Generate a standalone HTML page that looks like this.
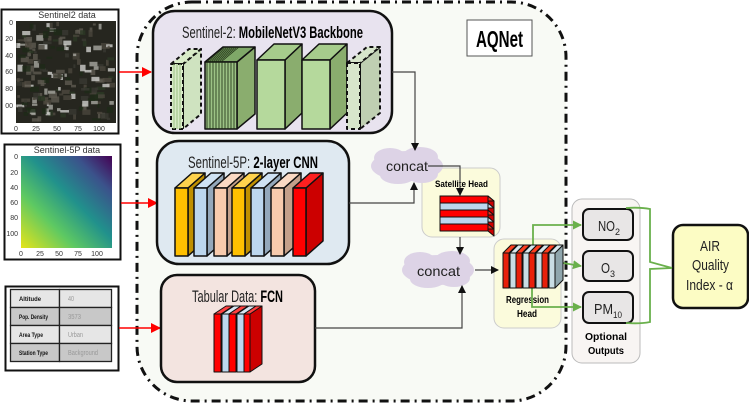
<!DOCTYPE html>
<html><head><meta charset="utf-8"><style>
html,body{margin:0;padding:0;background:#fff;width:749px;height:404px;overflow:hidden}
svg{display:block}
text{font-family:"Liberation Sans Narrow","Liberation Sans",sans-serif}
</style></head><body>
<svg id="s" width="749" height="404" viewBox="0 0 749 404" xmlns="http://www.w3.org/2000/svg">
<defs>
<linearGradient id="vg" x1="0" y1="1" x2="1" y2="0">
<stop offset="0" stop-color="#e5e419"/><stop offset="0.3" stop-color="#5ec962"/><stop offset="0.55" stop-color="#21918c"/><stop offset="0.8" stop-color="#3b528b"/><stop offset="1" stop-color="#440154"/>
</linearGradient>
<marker id="ab" markerWidth="8" markerHeight="8" refX="7" refY="4" orient="auto" markerUnits="userSpaceOnUse"><path d="M0,0 L8,4 L0,8z" fill="#111"/></marker>
<marker id="ar" markerWidth="10" markerHeight="10" refX="9" refY="5" orient="auto" markerUnits="userSpaceOnUse"><path d="M0,0 L10,5 L0,10z" fill="#f00"/></marker>
<marker id="ag" markerWidth="9" markerHeight="9" refX="8" refY="4.5" orient="auto" markerUnits="userSpaceOnUse"><path d="M0,0 L9,4.5 L0,9z" fill="#6ab04c"/></marker>
</defs>
<rect x="137" y="2" width="429" height="399" rx="55" fill="#f8faf5" stroke="#111" stroke-width="3" stroke-dasharray="9,5,2,5"/>
<rect x="467" y="20" width="65" height="36" fill="#fff" stroke="#555" stroke-width="1"/>
<text x="476" y="47" font-size="23" font-weight="bold" textLength="47" lengthAdjust="spacingAndGlyphs">AQNet</text>

<rect x="1.5" y="9.5" width="117" height="124" fill="#fff" stroke="#111" stroke-width="2"/>
<text x="67" y="18" font-size="9" text-anchor="middle" fill="#333">Sentinel2 data</text>
<g id="sat"><rect x="16" y="21" width="100" height="102" fill="#26261f"/></g>
<g font-size="7" fill="#333">
<text x="13" y="25" text-anchor="end">0</text><text x="13" y="41" text-anchor="end">20</text><text x="13" y="58" text-anchor="end">40</text><text x="13" y="74" text-anchor="end">60</text><text x="13" y="91" text-anchor="end">80</text><text x="13" y="108" text-anchor="end">00</text>
<text x="16" y="131" text-anchor="middle">0</text><text x="36" y="131" text-anchor="middle">25</text><text x="57" y="131" text-anchor="middle">50</text><text x="78" y="131" text-anchor="middle">75</text><text x="99" y="131" text-anchor="middle">100</text>
</g>
<rect x="4.5" y="144.5" width="116" height="115" fill="#fff" stroke="#111" stroke-width="2"/>
<text x="67" y="153" font-size="9" text-anchor="middle" fill="#333">Sentinel-5P data</text>
<rect x="21" y="156" width="91" height="92" fill="url(#vg)"/>
<g font-size="7" fill="#333">
<text x="18" y="159" text-anchor="end">0</text><text x="18" y="175" text-anchor="end">20</text><text x="18" y="190" text-anchor="end">40</text><text x="18" y="205" text-anchor="end">60</text><text x="18" y="220" text-anchor="end">80</text><text x="18" y="236" text-anchor="end">100</text>
<text x="21" y="256" text-anchor="middle">0</text><text x="40" y="256" text-anchor="middle">25</text><text x="59" y="256" text-anchor="middle">50</text><text x="78" y="256" text-anchor="middle">75</text><text x="97" y="256" text-anchor="middle">100</text>
</g>
<rect x="5.5" y="286.5" width="113" height="84" fill="#fff" stroke="#111" stroke-width="2"/>
<g stroke="#222" stroke-width="1.3">
<rect x="10.5" y="289.5" width="49" height="18" fill="#e6e6e6"/><rect x="59.5" y="289.5" width="52" height="18" fill="#e6e6e6"/>
<rect x="10.5" y="307.5" width="49" height="18" fill="#c8c8c8"/><rect x="59.5" y="307.5" width="52" height="18" fill="#c8c8c8"/>
<rect x="10.5" y="325.5" width="49" height="18" fill="#e6e6e6"/><rect x="59.5" y="325.5" width="52" height="18" fill="#e6e6e6"/>
<rect x="10.5" y="343.5" width="49" height="18" fill="#c8c8c8"/><rect x="59.5" y="343.5" width="52" height="18" fill="#c8c8c8"/>
</g>
<g font-size="6.5" font-weight="bold" fill="#111">
<text x="19" y="301" textLength="22" lengthAdjust="spacingAndGlyphs">Altitude</text>
<text x="19" y="319" textLength="29" lengthAdjust="spacingAndGlyphs">Pop. Density</text>
<text x="19" y="337" textLength="24" lengthAdjust="spacingAndGlyphs">Area Type</text>
<text x="19" y="355" textLength="29" lengthAdjust="spacingAndGlyphs">Station Type</text>
</g>
<g font-size="7" fill="#999">
<text x="68" y="301" textLength="6" lengthAdjust="spacingAndGlyphs">40</text>
<text x="68" y="319" textLength="13" lengthAdjust="spacingAndGlyphs">3573</text>
<text x="68" y="337" textLength="15" lengthAdjust="spacingAndGlyphs">Urban</text>
<text x="68" y="355" textLength="30" lengthAdjust="spacingAndGlyphs">Background</text>
</g>
<g stroke="#f00" stroke-width="1.5" fill="none">
<line x1="119" y1="72" x2="151" y2="72" marker-end="url(#ar)"/>
<line x1="121" y1="203" x2="157" y2="203" marker-end="url(#ar)"/>
<line x1="119" y1="328" x2="160" y2="328" marker-end="url(#ar)"/>
</g>

<rect x="153" y="11" width="239" height="122" rx="22" fill="#e8e3ef" stroke="#111" stroke-width="2.5"/>
<text x="182" y="38" font-size="17" fill="#222" textLength="181" lengthAdjust="spacingAndGlyphs">Sentinel-2: <tspan font-weight="bold" fill="#000">MobileNetV3 Backbone</tspan></text>
<rect x="157" y="141" width="192" height="123" rx="22" fill="#dfe9f1" stroke="#111" stroke-width="2.5"/>
<text x="188" y="168" font-size="17" fill="#222" textLength="130" lengthAdjust="spacingAndGlyphs">Sentinel-5P: <tspan font-weight="bold" fill="#000">2-layer CNN</tspan></text>
<rect x="161" y="275" width="154" height="107" rx="16" fill="#f3e4e0" stroke="#111" stroke-width="2.5"/>
<text x="192" y="302" font-size="17" fill="#222" textLength="91" lengthAdjust="spacingAndGlyphs">Tabular Data: <tspan font-weight="bold" fill="#000">FCN</tspan></text>

<rect x="422" y="168" width="78" height="69" rx="10" fill="#fbfbdc" stroke="#ccc" stroke-width="1"/>
<text x="435" y="187" font-size="9.5" font-weight="bold" textLength="53" lengthAdjust="spacingAndGlyphs">Satellite Head</text>
<rect x="494" y="239" width="67" height="89" rx="10" fill="#fbfbdc" stroke="#ccc" stroke-width="1"/>
<text x="506" y="303" font-size="10" font-weight="bold" textLength="43" lengthAdjust="spacingAndGlyphs">Regression</text>
<text x="517" y="317" font-size="10" font-weight="bold" textLength="20" lengthAdjust="spacingAndGlyphs">Head</text>
<rect x="572" y="199" width="68" height="164" rx="10" fill="#f8f5f3" stroke="#bbb" stroke-width="1"/>
<text x="585" y="340" font-size="10" font-weight="bold" textLength="42" lengthAdjust="spacingAndGlyphs">Optional</text>
<text x="588" y="354" font-size="10" font-weight="bold" textLength="36" lengthAdjust="spacingAndGlyphs">Outputs</text>
<g fill="#e8e6e6" stroke="#111" stroke-width="2">
<rect x="583" y="209" width="50" height="31" rx="6"/><rect x="583" y="251" width="50" height="30" rx="6"/><rect x="583" y="292" width="50" height="31" rx="6"/>
</g>
<g font-size="15" fill="#222">
<text x="598" y="231" textLength="17" lengthAdjust="spacingAndGlyphs">NO</text><text x="615" y="235" font-size="9">2</text>
<text x="601" y="273" textLength="9" lengthAdjust="spacingAndGlyphs">O</text><text x="610" y="277" font-size="9">3</text>
<text x="594" y="314" textLength="19" lengthAdjust="spacingAndGlyphs">PM</text><text x="613" y="318" font-size="9" textLength="9" lengthAdjust="spacingAndGlyphs">10</text>
</g>
<rect x="673" y="225" width="75" height="83" rx="10" fill="#fcfcc4" stroke="#111" stroke-width="2.5"/>
<g font-size="15" fill="#222">
<text x="700" y="251" textLength="20" lengthAdjust="spacingAndGlyphs">AIR</text>
<text x="692" y="270" textLength="37" lengthAdjust="spacingAndGlyphs">Quality</text>
<text x="686" y="290" textLength="47" lengthAdjust="spacingAndGlyphs">Index - α</text>
</g>

<g fill="#ddd3e6">
<ellipse cx="407" cy="166" rx="36" ry="15"/><ellipse cx="390" cy="158" rx="16" ry="10"/><ellipse cx="420" cy="157" rx="18" ry="10"/><ellipse cx="398" cy="175" rx="18" ry="9"/><ellipse cx="422" cy="174" rx="16" ry="9"/>
<ellipse cx="438" cy="270" rx="36" ry="15"/><ellipse cx="420" cy="262" rx="16" ry="10"/><ellipse cx="452" cy="261" rx="18" ry="10"/><ellipse cx="428" cy="279" rx="18" ry="9"/><ellipse cx="454" cy="278" rx="16" ry="9"/>
</g>
<text x="386" y="171" font-size="14" fill="#222" textLength="42" lengthAdjust="spacingAndGlyphs">concat</text>
<text x="417" y="276" font-size="14" fill="#222" textLength="43" lengthAdjust="spacingAndGlyphs">concat</text>

<g stroke="#444" stroke-width="1.2" fill="none">
<polyline points="392,72 415,72 415,150" marker-end="url(#ab)"/>
<polyline points="349,203 414,203 414,183" marker-end="url(#ab)"/>
<polyline points="428,166 460,166 460,195" marker-end="url(#ab)"/>
<polyline points="460,237 460,254" marker-end="url(#ab)"/>
<polyline points="315,328 462,328 462,286" marker-end="url(#ab)"/>
<polyline points="475,270 498,270" marker-end="url(#ab)"/>
</g>
<g stroke="#6ab04c" stroke-width="1.8" fill="none">
<polyline points="533,262 533,225 581,225" marker-end="url(#ag)"/>
<polyline points="557,262 581,266" marker-end="url(#ag)"/>
<polyline points="532,280 532,307 581,307" marker-end="url(#ag)"/>
<path d="M626,208 Q640,207 650,209 L650,262 L672,268"/>
<path d="M626,323 Q640,324 650,322 L650,269 L672,268"/>
</g>
<g id="blocks"></g>
</svg>
<script>
var NS="http://www.w3.org/2000/svg",G=document.getElementById("blocks"),S=document.getElementById("sat");
function el(t,a,p){var e=document.createElementNS(NS,t);for(var k in a)e.setAttribute(k,a[k]);(p||G).appendChild(e);return e;}
function box(x,y,w,h,dx,dy,f,t,s,o){o=o||{};var st=o.dash?{"stroke-dasharray":"4,3"}:{};var sw=o.sw||1.5;
function P(pts,fill){var a={points:pts,fill:fill,stroke:"#111","stroke-width":sw,"stroke-linejoin":"round"};for(var k in st)a[k]=st[k];el("polygon",a);}
P([x+w,y,x+w+dx,y-dy,x+w+dx,y+h-dy,x+w,y+h].join(" "),s);
P([x,y,x+dx,y-dy,x+w+dx,y-dy,x+w,y].join(" "),t);
P([x,y,x+w,y,x+w,y+h,x,y+h].join(" "),f);}
box(171,64,12,65,18,15,"#d8ebc8","#d8ebc8","#cfe3c0",{dash:1,sw:2});
for(var i=0;i<3;i++)el("line",{x1:174+i*3,y1:64,x2:174+i*3,y2:129,stroke:"#9cc285","stroke-width":1});
box(205,62,32,67,18,15,"#9cc285","#7fa868","#8aad6e");
for(var i=0;i<10;i++)el("line",{x1:207+i*3,y1:62,x2:207+i*3,y2:129,stroke:"#1a2a10","stroke-width":0.8});
for(var i=0;i<8;i++)el("line",{x1:207+i*2,y1:62,x2:225+i*2,y2:47,stroke:"#1a2a10","stroke-width":0.7});
box(257,60,28,69,17,16,"#b5d99c","#a6cc8c","#8aad6e");
box(302,60,28,69,17,16,"#b5d99c","#a6cc8c","#8aad6e");
box(347,63,13,66,20,16,"#d7e6cb","#d7e6cb","#bfcfb2",{dash:1,sw:2});
var c=[["#ffc000","#ffd34d","#c09000"],["#bdd7ee","#cfe2f3","#94a8bb"],["#f8cbad","#fad9c3","#c4a08a"]];
var xs=[175,194,214,232,251,271];
for(var i=0;i<6;i++){var q=c[i%3];box(xs[i],188,13,68,17,15,q[0],q[1],q[2]);}
box(293,188,13,68,17,15,"#ff0000","#ff2020","#cc0000");
var fx=[214,222,229,237,244];var fc=["#f00","#bdd7ee","#f00","#bdd7ee","#f00"];
for(var i=0;i<5;i++)box(fx[i],314,i==4?6:7,58,12,8,fc[i],fc[i]=="#f00"?"#ff4040":"#d7e6f3",fc[i]=="#f00"?"#c00":"#94a8bb",{sw:1});
var ly=[196,203,210,217,224];var lc=["#f00","#bdd7ee","#f00","#bdd7ee","#f00"];
for(var i=4;i>=0;i--)box(440,ly[i],48,7,6,-5,lc[i],lc[i]=="#f00"?"#e83020":"#c9d9e6","#c00",{sw:1});
var rx=[503,510,516,523,529,536,542,549];
for(var i=0;i<8;i++){var r=i%2==0;box(rx[i],253,6,35,8,8,r?"#e8200a":"#c9dde4",r?"#ff4020":"#d8e8ee",r?"#b00":"#8fa6ad",{sw:1});}
var seed=7;function rnd(){seed=(seed*9301+49297)%233280;return seed/233280;}
var cols=["#3a3a32","#1e2a18","#4a463c","#5e5a50","#a8a8a0","#2c3824","#4f4a40","#d0d0cc"];
for(var i=0;i<200;i++){var w=2+rnd()*7,h=2+rnd()*5;el("rect",{x:16+rnd()*(100-w),y:21+rnd()*(102-h),width:w,height:h,fill:cols[Math.floor(rnd()*cols.length)],opacity:0.8},S);}
</script>
</body></html>
